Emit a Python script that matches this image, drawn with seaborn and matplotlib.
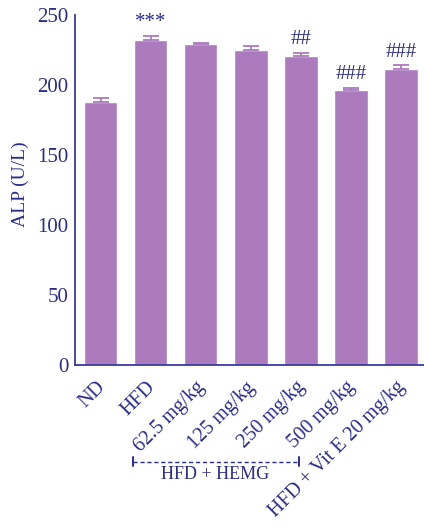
import matplotlib
matplotlib.use("Agg")
import matplotlib.pyplot as plt
import matplotlib.transforms as mtransforms
import seaborn as sns
import pandas as pd
import numpy as np

groups = ["ND", "HFD", "62.5 mg/kg", "125 mg/kg", "250 mg/kg", "500 mg/kg",
          "HFD + Vit E 20 mg/kg"]
alp_mean = [187.6, 232.0, 229.0, 225.0, 221.0, 196.2, 211.2]
alp_sem = [2.9, 3.2, 1.2, 3.0, 2.2, 2.0, 2.8]
signif = ["", "***", "", "", "##", "###", "###"]

bar_color = "#ab7bbd"
ink = "#2b2b8c"
axis_color = "#3a3aa0"

sns.set_style("white")
plt.rcParams["font.family"] = ["Liberation Serif", "DejaVu Serif"]

df = pd.DataFrame({"group": groups, "alp": alp_mean})

fig = plt.figure(figsize=(4.24, 5.29), dpi=100)
ax = fig.add_axes([0.178, 0.31, 0.822, 0.6616])

sns.barplot(data=df, x="group", y="alp", color=bar_color, saturation=1,
            width=0.67, errorbar=None, ax=ax)

x = np.arange(len(groups))
ax.errorbar(x, alp_mean, yerr=[np.zeros(len(alp_sem)), alp_sem], fmt="none",
            ecolor=bar_color, elinewidth=1.3, capsize=6, capthick=1.3)

for xi, m, s, lab in zip(x, alp_mean, alp_sem, signif):
    if lab:
        ax.text(xi, m + s + 2.5, lab, ha="center", va="bottom", color=ink,
                fontsize=15)

ax.set_ylim(0, 250)
ax.set_xlim(-0.5, 6.46)
ax.set_yticks([0, 50, 100, 150, 200, 250])
ax.set_xlabel("")
ax.set_ylabel("ALP (U/L)", color=ink, fontsize=14)
ax.yaxis.set_label_coords(-0.134, 0.517)

for side in ["top", "right"]:
    ax.spines[side].set_visible(False)
for side in ["left", "bottom"]:
    ax.spines[side].set_color(axis_color)
    ax.spines[side].set_linewidth(1.3)

ax.tick_params(axis="y", direction="out", length=4, width=1.2,
               color=axis_color, labelcolor=ink, labelsize=15, pad=1)
ax.tick_params(axis="x", length=0, labelcolor=ink, labelsize=14.5, pad=5)
shift = mtransforms.ScaledTranslation(-5 / 100, -6 / 100, fig.dpi_scale_trans)
for t in ax.get_xticklabels():
    t.set_rotation(45)
    t.set_ha("right")
    t.set_va("top")
    t.set_rotation_mode("anchor")
    t.set_transform(t.get_transform() + shift)

# bracket grouping the HEMG doses
trans = mtransforms.blended_transform_factory(ax.transData, ax.transAxes)
yb = -0.276
ax.plot([0.65, 3.97], [yb, yb], transform=trans, color=ink, lw=1,
        ls=(0, (3, 2)), clip_on=False)
for xe in [0.65, 3.97]:
    ax.plot([xe, xe], [yb - 0.013, yb + 0.013], transform=trans, color=ink,
            lw=1.4, clip_on=False)
ax.text(2.29, yb - 0.013, "HFD + HEMG", transform=trans, ha="center",
        va="top", color=ink, fontsize=13)

fig.savefig("out.png", dpi=100)
